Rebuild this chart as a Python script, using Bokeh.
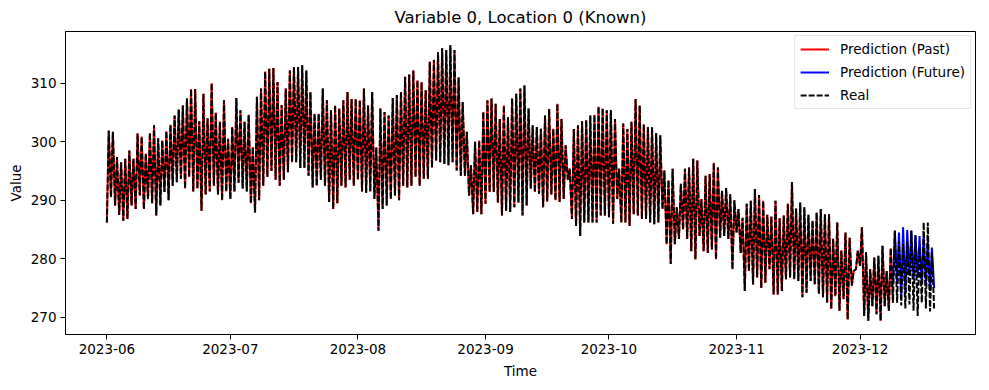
from datetime import datetime, timedelta

from bokeh.plotting import figure
from bokeh.models import (Range1d, MonthsTicker, DatetimeTickFormatter, FixedTicker,
                          Legend, LegendItem)
from bokeh.embed import file_html
from bokeh.resources import INLINE

# ---------------- data ----------------
start_date = datetime(2023, 6, 1)

# daily minimum / maximum of the real series, one value per day from 2023-06-01
# (the minimum list has one extra value: the series ends on a final dip)
real_daily_min = [
    286.2, 290.5, 289.1, 287.5, 286.5, 286.8, 289.1, 288.5, 290.8, 288.5,
    290.2, 289.5, 287.4, 289.1, 291.4, 290.0, 292.5, 293.1, 293.7, 292.0,
    294.0, 291.5, 292.0, 288.2, 291.0, 291.5, 292.5, 291.0, 290.0, 291.5,
    290.2, 291.5, 293.0, 292.0, 291.5, 289.5, 287.9, 290.0, 292.5, 294.0,
    295.0, 293.5, 292.5, 293.5, 294.8, 296.5, 296.5, 295.5, 295.5, 294.2,
    292.2, 292.5, 293.5, 292.5, 289.7, 288.5, 289.5, 292.5, 292.2, 293.5,
    292.5, 293.5, 291.5, 291.3, 291.5, 290.2, 284.8, 288.5, 289.1, 290.2,
    290.8, 290.0, 292.5, 292.2, 292.5, 294.0, 292.5, 293.7, 293.7, 295.6,
    296.8, 296.5, 296.2, 296.0, 296.5, 295.1, 294.2, 294.2, 290.8, 287.6,
    288.0, 287.6, 289.4, 291.4, 291.4, 289.6, 287.4, 288.2, 288.0, 288.8,
    289.6, 287.4, 289.1, 292.0, 291.4, 291.1, 288.8, 289.8, 291.0, 290.0,
    289.7, 290.2, 293.5, 286.8, 285.6, 283.9, 286.2, 286.2, 286.2, 286.2,
    287.4, 287.4, 287.1, 286.0, 290.2, 286.2, 286.2, 285.6, 287.6, 287.4,
    286.8, 286.8, 286.2, 285.9, 286.2, 288.5, 282.5, 279.1, 282.5, 283.4,
    285.0, 283.4, 281.3, 279.9, 283.9, 281.3, 281.0, 281.6, 279.9, 283.6,
    283.9, 283.4, 278.2, 284.5, 281.0, 274.5, 277.9, 275.6, 276.8, 275.0,
    275.9, 278.2, 273.9, 273.9, 274.5, 276.5, 276.8, 276.5, 276.2, 273.4,
    274.2, 276.2, 275.6, 274.0, 273.4, 272.5, 271.4, 273.6, 271.1, 273.1,
    269.6, 275.4, 278.2, 278.8, 270.2, 269.4, 271.9, 270.5, 269.4, 271.9,
    271.1, 272.5, 272.5, 272.0, 271.5, 272.2, 271.1, 270.2, 272.5, 271.5,
    271.0, 271.5,
]
real_daily_max = [
    301.9, 301.7, 297.4, 296.5, 297.1, 298.5, 297.1, 301.4, 300.9, 298.0,
    301.5, 302.8, 300.6, 300.2, 301.8, 302.9, 304.5, 305.5, 306.2, 307.4,
    309.0, 309.0, 303.5, 308.2, 304.0, 310.0, 305.0, 303.4, 307.1, 300.5,
    302.5, 307.5, 305.4, 303.4, 304.6, 299.1, 307.7, 309.1, 312.0, 312.5,
    312.6, 310.2, 306.3, 309.1, 312.2, 312.8, 312.8, 313.1, 312.2, 308.5,
    304.8, 304.8, 309.1, 307.1, 305.4, 306.2, 305.7, 307.1, 308.5, 307.3,
    307.3, 307.1, 309.1, 306.2, 308.5, 299.0, 305.7, 305.1, 304.5, 307.5,
    308.0, 308.5, 311.1, 311.5, 312.2, 310.5, 310.2, 308.8, 313.7, 314.0,
    315.3, 316.0, 315.7, 316.5, 315.7, 311.0, 306.8, 301.7, 296.0, 300.0,
    300.2, 305.1, 307.1, 307.4, 306.5, 303.9, 306.2, 304.2, 307.4, 308.2,
    309.1, 309.6, 305.7, 302.8, 302.5, 302.2, 304.5, 305.6, 302.2, 306.5,
    303.9, 299.4, 295.4, 302.2, 302.8, 303.5, 303.7, 304.5, 304.6, 306.0,
    305.7, 305.4, 305.4, 303.9, 295.4, 303.1, 302.2, 303.4, 307.3, 306.2,
    303.0, 302.5, 302.5, 301.5, 301.1, 295.1, 293.4, 295.4, 288.8, 292.8,
    295.4, 295.6, 297.1, 296.8, 290.2, 294.2, 294.5, 296.4, 295.6, 291.6,
    292.1, 291.0, 290.0, 288.5, 287.0, 289.4, 289.9, 291.9, 290.9, 289.9,
    287.5, 287.2, 289.9, 286.9, 287.4, 289.4, 293.1, 288.6, 289.6, 288.8,
    287.5, 286.5, 287.9, 288.5, 287.6, 287.6, 283.4, 286.2, 281.4, 284.5,
    283.6, 277.9, 281.4, 285.4, 281.1, 278.2, 280.2, 280.5, 282.2, 277.9,
    281.8, 284.8, 283.0, 282.5, 283.0, 284.8, 284.0, 282.0, 286.2, 286.2,
    281.0,
]

# the past prediction follows the real series up to this day; the future prediction starts here
future_start_day = 191
future_daily_min = [275.6, 275.8, 273.6, 274.2, 277.1, 276.5, 276.8, 275.5, 275.5, 274.5, 275.0]
future_daily_max = [284.8, 284.5, 285.4, 284.9, 284.8, 284.0, 283.9, 283.8, 283.0, 281.9]

y_ticks = [270, 280, 290, 300, 310]
title_text = "Variable 0, Location 0 (Known)"


def daily_series(first_day, mins, maxs):
    """Daily dip (early morning) followed by the daily peak (afternoon)."""
    xs, ys = [], []
    for i, lo in enumerate(mins):
        day = start_date + timedelta(days=first_day + i)
        xs.append(day)
        ys.append(lo)
        if i < len(maxs):
            xs.append(day + timedelta(hours=11))
            ys.append(maxs[i])
    return xs, ys


real_x, real_y = daily_series(0, real_daily_min, real_daily_max)
past_x, past_y = daily_series(0, real_daily_min[:future_start_day + 1],
                              real_daily_max[:future_start_day])
fut_x, fut_y = daily_series(future_start_day, future_daily_min, future_daily_max)

# ---------------- figure ----------------
FONT = "DejaVu Sans"

x_lo, x_hi = min(real_x), max(real_x)
x_pad = (x_hi - x_lo) * 0.05
all_y = real_y + fut_y
y_lo, y_hi = min(all_y), max(all_y)
y_pad = (y_hi - y_lo) * 0.05

p = figure(width=981, height=381, x_axis_type="datetime",
           output_backend="svg", toolbar_location=None,
           title=title_text,
           x_range=Range1d(x_lo - x_pad, x_hi + x_pad),
           y_range=Range1d(y_lo - y_pad, y_hi + y_pad),
           min_border_left=65, min_border_right=6,
           min_border_top=31, min_border_bottom=45)

p.background_fill_color = "white"
p.border_fill_color = "white"
p.outline_line_color = "black"
p.outline_line_width = 1
p.xgrid.visible = False
p.ygrid.visible = False

p.title.align = "center"
p.title.text_font = FONT
p.title.text_font_size = "16.5px"
p.title.text_font_style = "normal"
p.title.text_color = "black"
p.title.standoff = 9

fmt = "%Y-%m"
p.xaxis.ticker = MonthsTicker(months=list(range(12)))
p.xaxis.formatter = DatetimeTickFormatter(
    milliseconds=fmt, seconds=fmt, minsec=fmt, minutes=fmt, hourmin=fmt,
    hours=fmt, days=fmt, months=fmt, years=fmt)
p.yaxis.ticker = FixedTicker(ticks=y_ticks)

p.xaxis.axis_label = "Time"
p.yaxis.axis_label = "Value"
for ax in (p.xaxis[0], p.yaxis[0]):
    ax.axis_line_color = "black"
    ax.major_tick_line_color = "black"
    ax.major_tick_in = 0
    ax.major_tick_out = 5
    ax.minor_tick_line_color = None
    ax.major_label_text_font = FONT
    ax.major_label_text_font_size = "13.5px"
    ax.major_label_text_color = "black"
    ax.major_label_standoff = 4
    ax.axis_label_text_font = FONT
    ax.axis_label_text_font_size = "13.5px"
    ax.axis_label_text_font_style = "normal"
    ax.axis_label_text_color = "black"
    ax.axis_label_standoff = 4
p.xaxis[0].axis_label_standoff = 6

r_past = p.line(past_x, past_y, line_color="red", line_width=2)
r_fut = p.line(fut_x, fut_y, line_color="blue", line_width=2)
r_real = p.line(real_x, real_y, line_color="black", line_width=2, line_dash="6 2")

legend = Legend(items=[
    LegendItem(label="Prediction (Past)", renderers=[r_past]),
    LegendItem(label="Prediction (Future)", renderers=[r_fut]),
    LegendItem(label="Real", renderers=[r_real]),
], location="top_right")
legend.margin = 4
legend.padding = 5
legend.spacing = 7
legend.glyph_width = 29
legend.glyph_height = 14
legend.label_height = 14
legend.label_standoff = 11
legend.label_text_font = FONT
legend.label_text_font_size = "13.5px"
legend.label_text_color = "black"
legend.border_line_color = "#cccccc"
legend.border_line_width = 1
legend.background_fill_color = "white"
legend.background_fill_alpha = 0.8
p.add_layout(legend)

open("out.html", "w").write(file_html(p, INLINE))
